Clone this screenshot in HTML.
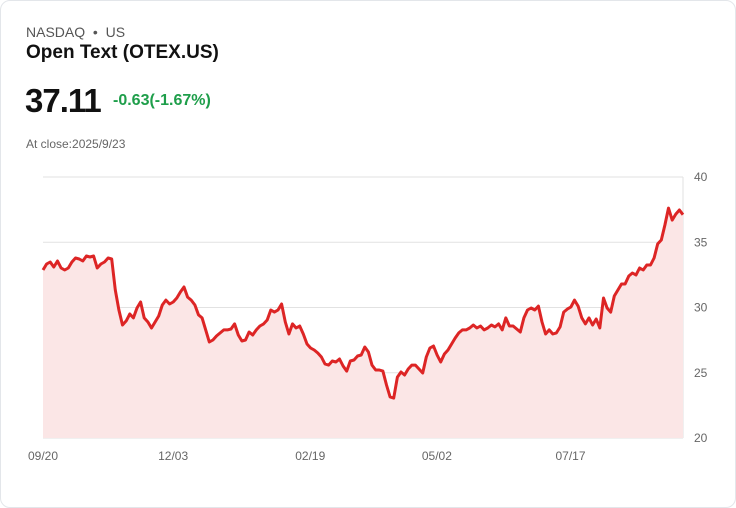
<!DOCTYPE html>
<html><head><meta charset="utf-8"><style>
body{margin:0;background:#fff;font-family:"Liberation Sans",sans-serif;}
.card{position:absolute;left:0;top:0;width:734px;height:506px;border:1px solid #e3e6ea;border-radius:10px;background:#fff;}
.t{position:absolute;white-space:nowrap;}
</style></head><body>
<div class="card">
<div class="t" style="left:25px;top:23px;font-size:14px;color:#555;">NASDAQ &nbsp;•&nbsp; US</div>
<div class="t" style="left:25px;top:41px;font-size:19px;font-weight:bold;color:#111;">Open Text (OTEX.US)</div>
<div class="t" style="left:24px;top:81px;font-size:33px;font-weight:bold;color:#111;letter-spacing:-1px;">37.11</div>
<div class="t" style="left:112px;top:91px;font-size:16px;font-weight:bold;color:#1e9e4a;">-0.63(-1.67%)</div>
<div class="t" style="left:25px;top:136px;font-size:12px;color:#666;">At close:2025/9/23</div>
<svg id="chart" width="736" height="508" style="position:absolute;left:-1px;top:-1px"></svg>
</div>
<script>
const values=[32.87,33.33,33.49,33.10,33.56,33.03,32.87,33.03,33.49,33.79,33.72,33.56,33.95,33.87,33.95,33.03,33.33,33.49,33.79,33.72,31.34,29.81,28.66,28.97,29.50,29.20,29.96,30.42,29.20,28.89,28.43,28.89,29.35,30.19,30.57,30.27,30.42,30.73,31.19,31.57,30.80,30.57,30.19,29.43,29.20,28.28,27.36,27.51,27.82,28.05,28.28,28.28,28.35,28.74,27.89,27.43,27.51,28.12,27.89,28.28,28.58,28.74,29.04,29.81,29.65,29.81,30.27,28.89,27.97,28.74,28.43,28.58,27.97,27.20,26.90,26.74,26.51,26.21,25.67,25.59,25.90,25.82,26.05,25.52,25.13,25.90,25.98,26.28,26.36,26.97,26.59,25.59,25.21,25.21,25.13,24.06,23.14,23.06,24.67,25.06,24.83,25.29,25.59,25.59,25.29,24.98,26.21,26.90,27.05,26.36,25.82,26.44,26.74,27.20,27.66,28.05,28.28,28.28,28.43,28.66,28.43,28.58,28.28,28.43,28.66,28.51,28.74,28.28,29.20,28.58,28.58,28.35,28.12,29.20,29.81,29.96,29.81,30.11,28.89,27.97,28.28,27.97,28.05,28.51,29.65,29.88,30.04,30.57,30.11,29.20,28.74,29.20,28.66,29.12,28.43,30.73,29.96,29.65,30.88,31.34,31.80,31.80,32.41,32.64,32.49,33.03,32.87,33.26,33.26,33.79,34.87,35.17,36.32,37.62,36.70,37.16,37.47,37.11];
const yTicks=[20,25,30,35,40];
const xLabels=["09/20","12/03","02/19","05/02","07/17"];
const xLabelDays=[0,74,152,224,300];
const totalDays=364;
const X0=43,X1=683,Y0=438,Y1=177,YMIN=20,YMAX=40;
const ns="http://www.w3.org/2000/svg";
const svg=document.getElementById('chart');
const ys=v=>Y0-(v-YMIN)/(YMAX-YMIN)*(Y0-Y1);
const xs=i=>X0+i/(values.length-1)*(X1-X0);
const xd=d=>X0+d/totalDays*(X1-X0);
function mk(t,a){const e=document.createElementNS(ns,t);for(const k in a)e.setAttribute(k,a[k]);svg.appendChild(e);return e;}
yTicks.forEach(v=>{
 const l=mk('line',{x1:X0,x2:X1,y1:ys(v),y2:ys(v),stroke:'#e2e2e2','stroke-width':1});
 
 
 const t=mk('text',{x:694,y:ys(v)+4,'font-size':12,fill:'#666','font-family':'Liberation Sans, sans-serif'});
 t.textContent=v;
 
 
});
const vl=mk('line',{x1:X1,x2:X1,y1:Y1,y2:Y0,stroke:'#e2e2e2','stroke-width':1});


xLabels.forEach((s,i)=>{
 const t=mk('text',{x:xd(xLabelDays[i])-15,y:460,'font-size':12,fill:'#666','font-family':'Liberation Sans, sans-serif'});
 t.textContent=s;
 
 
});
let d=values.map((v,i)=>(i?'L':'M')+xs(i).toFixed(1)+','+ys(v).toFixed(1)).join('');
const area=mk('path',{d:d+'L'+X1+','+Y0+'L'+X0+','+Y0+'Z',fill:'#fbe6e6'});


const line=mk('path',{d:d,fill:'none',stroke:'#dd2525','stroke-width':3,'stroke-linejoin':'round'});


</script>
</body></html>
